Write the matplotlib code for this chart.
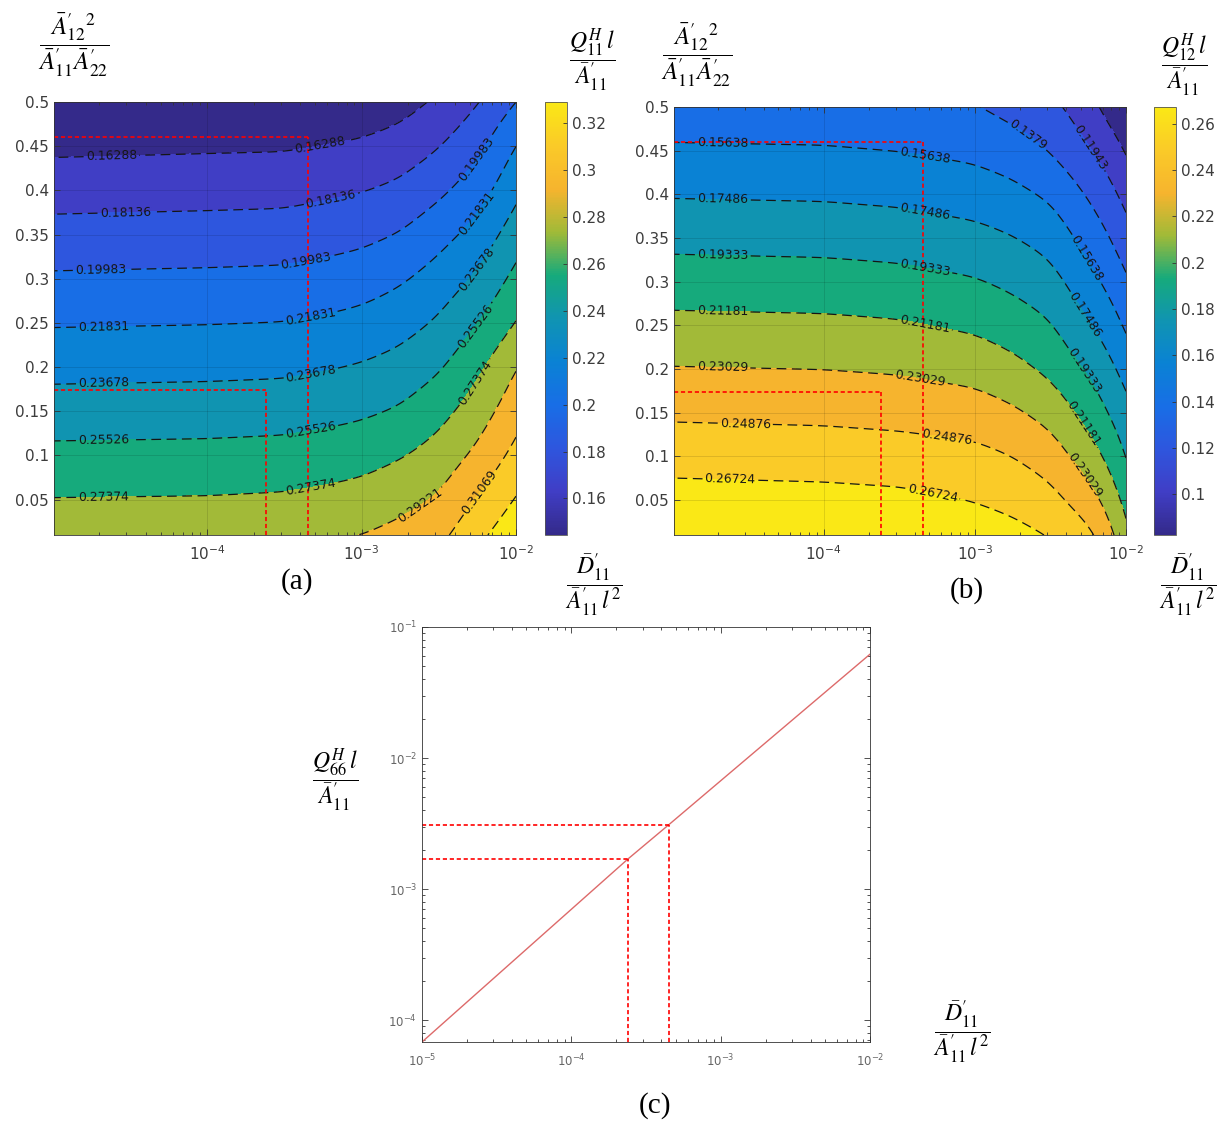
import numpy as np
import matplotlib
matplotlib.use("Agg")
import matplotlib.pyplot as plt
from matplotlib.colors import LinearSegmentedColormap, Normalize
from matplotlib.cm import ScalarMappable
from matplotlib.ticker import FixedLocator, FuncFormatter, FormatStrFormatter

plt.rcParams['font.family'] = ['DejaVu Sans']
plt.rcParams['mathtext.fontset'] = 'stix'
plt.rcParams['lines.scale_dashes'] = False

# ---- data ----
# rows: A12'^2/(A11'A22'), columns: log10 of D11'/(A11' l^2)
ratio = [0.01, 0.05, 0.10, 0.15, 0.20, 0.25, 0.30, 0.35, 0.40, 0.45, 0.50]

logd_a = [-5, -4, -3.5, -3.25, -3.0, -2.75, -2.5, -2.25, -2.0]
q11 = [
    [0.2859, 0.2865, 0.2878, 0.2899, 0.2922, 0.2976, 0.3051, 0.3245, 0.3418],
    [0.2744, 0.2750, 0.2763, 0.2784, 0.2811, 0.2866, 0.2937, 0.3123, 0.3303],
    [0.2600, 0.2607, 0.2619, 0.2639, 0.2668, 0.2724, 0.2811, 0.2961, 0.3159],
    [0.2456, 0.2464, 0.2475, 0.2496, 0.2522, 0.2571, 0.2675, 0.2829, 0.3033],
    [0.2312, 0.2321, 0.2331, 0.2353, 0.2383, 0.2433, 0.2528, 0.2698, 0.2915],
    [0.2168, 0.2177, 0.2187, 0.2209, 0.2240, 0.2297, 0.2390, 0.2547, 0.2741],
    [0.2024, 0.2034, 0.2043, 0.2065, 0.2096, 0.2159, 0.2260, 0.2395, 0.2604],
    [0.1880, 0.1891, 0.1899, 0.1923, 0.1951, 0.2007, 0.2118, 0.2248, 0.2463],
    [0.1736, 0.1748, 0.1755, 0.1781, 0.1805, 0.1855, 0.1958, 0.2098, 0.2322],
    [0.1592, 0.1605, 0.1611, 0.1632, 0.1656, 0.1706, 0.1804, 0.1948, 0.2188],
    [0.1448, 0.1462, 0.1467, 0.1483, 0.1507, 0.1557, 0.1658, 0.1799, 0.1998],
]
levels_a = [0.14441, 0.16288, 0.18136, 0.19983, 0.21831, 0.23678, 0.25526,
            0.27374, 0.29221, 0.31069, 0.32916, 0.34763]

logd_b = [-5, -4, -3.5, -3.0, -2.75, -2.5, -2.25, -2.125, -2.0]
q12 = [
    [0.2861, 0.2847, 0.2831, 0.2768, 0.2728, 0.2664, 0.2543, 0.2390, 0.2168],
    [0.2745, 0.2732, 0.2716, 0.2666, 0.2622, 0.2550, 0.2389, 0.2256, 0.2062],
    [0.2601, 0.2588, 0.2571, 0.2539, 0.2490, 0.2401, 0.2210, 0.2091, 0.1926],
    [0.2457, 0.2445, 0.2427, 0.2392, 0.2334, 0.2239, 0.2055, 0.1940, 0.1813],
    [0.2312, 0.2301, 0.2283, 0.2236, 0.2173, 0.2078, 0.1910, 0.1814, 0.1682],
    [0.2168, 0.2157, 0.2138, 0.2087, 0.2030, 0.1951, 0.1766, 0.1676, 0.1536],
    [0.2024, 0.2013, 0.1994, 0.1949, 0.1895, 0.1818, 0.1629, 0.1530, 0.1407],
    [0.1880, 0.1869, 0.1850, 0.1806, 0.1757, 0.1681, 0.1496, 0.1402, 0.1275],
    [0.1735, 0.1725, 0.1705, 0.1661, 0.1615, 0.1537, 0.1364, 0.1269, 0.1137],
    [0.1591, 0.1582, 0.1561, 0.1520, 0.1468, 0.1371, 0.1215, 0.1120, 0.0995],
    [0.1447, 0.1438, 0.1417, 0.1392, 0.1319, 0.1245, 0.1089, 0.0952, 0.0853],
]
levels_b = [0.0825, 0.10095, 0.11943, 0.1379, 0.15638, 0.17486, 0.19333,
            0.21181, 0.23029, 0.24876, 0.26724, 0.29]

# chosen design points (red dashed guides)
guide_d = [2.4e-4, 4.5e-4]
guide_ratio = [0.174, 0.46]

# panel (c): Q66 line
d_c = [1e-5, 2.4e-4, 4.5e-4, 1e-2]
q66 = [6.8e-5, 1.7e-3, 3.1e-3, 6.2e-2]

# label spots (log10 d, ratio)
labels_a = [(-4.62, 0.436), (-3.27, 0.450), (-4.53, 0.372), (-3.20, 0.392),
            (-4.69, 0.309), (-3.36, 0.320), (-2.26, 0.435),
            (-4.67, 0.245), (-3.33, 0.256), (-2.26, 0.375),
            (-4.67, 0.181), (-3.33, 0.195), (-2.25, 0.310),
            (-4.67, 0.116), (-3.33, 0.128), (-2.25, 0.245),
            (-4.67, 0.052), (-3.33, 0.065), (-2.24, 0.180),
            (-2.62, 0.044), (-2.24, 0.059)]
labels_b = [(-2.24, 0.454), (-2.65, 0.468),
            (-4.67, 0.458), (-3.33, 0.445), (-2.26, 0.327),
            (-4.67, 0.394), (-3.33, 0.380), (-2.27, 0.262),
            (-4.67, 0.330), (-3.33, 0.316), (-2.27, 0.199),
            (-4.67, 0.265), (-3.33, 0.253), (-2.28, 0.138),
            (-4.67, 0.201), (-3.36, 0.189), (-2.27, 0.079),
            (-4.52, 0.136), (-3.19, 0.120),
            (-4.62, 0.074), (-3.28, 0.059)]

# parula-like colours sampled from the bands
cmap = LinearSegmentedColormap.from_list("parula_like", [
    (0.0, (52/255, 42/255, 138/255)),
    (0.1, (64/255, 62/255, 198/255)),
    (0.2, (46/255, 86/255, 222/255)),
    (0.3, (24/255, 110/255, 230/255)),
    (0.4, (10/255, 130/255, 212/255)),
    (0.5, (16/255, 148/255, 178/255)),
    (0.6, (22/255, 170/255, 124/255)),
    (0.7, (160/255, 186/255, 56/255)),
    (0.8, (246/255, 180/255, 46/255)),
    (0.9, (250/255, 202/255, 40/255)),
    (1.0, (250/255, 232/255, 22/255)),
])

XMIN = np.log10(1.02e-5)
TICK_C = '#3c3c3c'


def smooth_field(lx, ys, z, nx=301, ny=246, sig=7):
    fx = np.linspace(lx[0], lx[-1], nx)
    fy = np.linspace(ys[0], ys[-1], ny)
    z = np.asarray(z, float)
    tmp = np.array([np.interp(fx, lx, row) for row in z])
    f = np.array([np.interp(fy, ys, tmp[:, j]) for j in range(nx)]).T
    k = np.arange(-3 * sig, 3 * sig + 1)
    g = np.exp(-0.5 * (k / sig) ** 2)
    g /= g.sum()
    p = 3 * sig
    f = np.pad(f, p, mode='reflect', reflect_type='odd')
    f = np.apply_along_axis(lambda r: np.convolve(r, g, mode='same'), 1, f)
    f = np.apply_along_axis(lambda r: np.convolve(r, g, mode='same'), 0, f)
    f = f[p:-p, p:-p]
    return fx, fy, f


def style_axes(ax, size=11):
    ax.tick_params(which='both', direction='in', top=True, right=True,
                   colors='#333333', labelcolor=TICK_C, labelsize=size, width=0.6)
    ax.tick_params(which='major', length=4)
    ax.tick_params(which='minor', length=2)
    for s in ax.spines.values():
        s.set_color('#333333')
        s.set_linewidth(0.6)


pow_fmt = FuncFormatter(lambda v, p: r'$\mathdefault{10^{%d}}$' % round(v))
minor_log = [np.log10(k * 10.0 ** n) for n in (-5, -4, -3) for k in range(2, 10)]


def contour_panel(ax, cax, lx, z, levels, labelled, unlabelled, spots, cb_ticks):
    X, Y, Z = smooth_field(lx, ratio, z)
    band_colors = [cmap(k / 10) for k in range(len(levels) - 1)]
    ax.contourf(X, Y, Z, levels=levels, colors=band_colors)
    ax.contour(X, Y, Z, levels=unlabelled, colors='#151515', linewidths=0.9,
               linestyles=[(0, (7, 4))])
    cs = ax.contour(X, Y, Z, levels=labelled, colors='#151515', linewidths=0.9,
                    linestyles=[(0, (7, 4))])
    ax.clabel(cs, manual=spots, fmt=lambda v: f'{v:.5g}',
              fontsize=8.9, inline=True, inline_spacing=2, colors='#151515')
    ax.set_xlim(XMIN, -2)
    ax.set_ylim(0.01, 0.5)
    ax.xaxis.set_major_locator(FixedLocator([-4, -3, -2]))
    ax.xaxis.set_major_formatter(pow_fmt)
    ax.xaxis.set_minor_locator(FixedLocator(minor_log))
    ax.yaxis.set_major_locator(FixedLocator(np.arange(0.05, 0.501, 0.05)))
    ax.yaxis.set_major_formatter(FormatStrFormatter('%g'))
    ax.grid(True, which='major', color='k', alpha=0.13, lw=0.6)
    style_axes(ax)
    ax.tick_params(axis='x', pad=7)
    # guides
    for d, r in zip(guide_d, guide_ratio):
        ax.plot([XMIN, np.log10(d)], [r, r], color='red', lw=1.2, ls=(0, (3, 2)))
        ax.plot([np.log10(d)] * 2, [0.01, r], color='red', lw=1.2, ls=(0, (3, 2)))
    sm = ScalarMappable(norm=Normalize(levels[0], levels[10]), cmap=cmap)
    cb = plt.colorbar(sm, cax=cax)
    cb.set_ticks(cb_ticks)
    cb.ax.yaxis.set_major_formatter(FormatStrFormatter('%g'))
    cb.ax.tick_params(direction='in', length=3, colors='#333333', labelcolor=TICK_C,
                      labelsize=11, width=0.6)
    cb.outline.set_edgecolor('#555555')
    cb.outline.set_linewidth(0.6)


W, H = 1223, 1125
fig = plt.figure(figsize=(W / 100, H / 100), dpi=100)


def box(l, t, r, b):
    return [l / W, 1 - b / H, (r - l) / W, (b - t) / H]


ax_a = fig.add_axes(box(54, 102, 516, 535))
cax_a = fig.add_axes(box(545, 102, 567, 535))
ax_b = fig.add_axes(box(674, 107, 1126, 535))
cax_b = fig.add_axes(box(1154, 107, 1176, 535))
ax_c = fig.add_axes(box(422, 627, 870, 1042))

contour_panel(ax_a, cax_a, logd_a, q11, levels_a, levels_a[1:10], [levels_a[10]],
              labels_a, np.arange(0.16, 0.321, 0.02))
contour_panel(ax_b, cax_b, logd_b, q12, levels_b, levels_b[2:11], [levels_b[1]],
              labels_b, np.arange(0.10, 0.261, 0.02))

# panel (c)
ax_c.plot(d_c, q66, color='#dd6a6a', lw=1.0)
for d, q in zip(d_c[1:3], q66[1:3]):
    ax_c.plot([1e-5, d], [q, q], color='red', lw=1.2, ls=(0, (3, 2)))
    ax_c.plot([d, d], [6.8e-5, q], color='red', lw=1.2, ls=(0, (3, 2)))
ax_c.set_xscale('log')
ax_c.set_yscale('log')
ax_c.set_xlim(1e-5, 1e-2)
ax_c.set_ylim(6.8e-5, 0.1)
ax_c.xaxis.set_major_locator(FixedLocator([1e-5, 1e-4, 1e-3, 1e-2]))
ax_c.yaxis.set_major_locator(FixedLocator([1e-4, 1e-3, 1e-2, 1e-1]))
style_axes(ax_c, size=8.5)
ax_c.tick_params(labelcolor='#666666')
ax_c.tick_params(axis='x', pad=8)

# math labels
frac_ratio = r'$\dfrac{{\bar{A}^{\prime}_{12}}^{2}}{\bar{A}^{\prime}_{11}\bar{A}^{\prime}_{22}}$'
frac_d = r'$\dfrac{\bar{D}^{\prime}_{11}}{\bar{A}^{\prime}_{11}\,l^{2}}$'
fs = 17
fig.text(74 / W, 1 - 45 / H, frac_ratio, ha='center', va='center', fontsize=fs + 1)
fig.text(697 / W, 1 - 55 / H, frac_ratio, ha='center', va='center', fontsize=fs + 1)
fig.text(592 / W, 1 - 60 / H, r'$\dfrac{Q^{H}_{11}\,l}{\bar{A}^{\prime}_{11}}$',
         ha='center', va='center', fontsize=fs)
fig.text(1184 / W, 1 - 65 / H, r'$\dfrac{Q^{H}_{12}\,l}{\bar{A}^{\prime}_{11}}$',
         ha='center', va='center', fontsize=fs)
fig.text(594 / W, 1 - 585 / H, frac_d, ha='center', va='center', fontsize=fs)
fig.text(1188 / W, 1 - 585 / H, frac_d, ha='center', va='center', fontsize=fs)
fig.text(335 / W, 1 - 780 / H, r'$\dfrac{Q^{H}_{66}\,l}{\bar{A}^{\prime}_{11}}$',
         ha='center', va='center', fontsize=fs)
fig.text(962 / W, 1 - 1032 / H, frac_d, ha='center', va='center', fontsize=fs)

for x, y, s in [(297, 582, '(a)'), (967, 591, '(b)'), (655, 1106, '(c)')]:
    fig.text(x / W, 1 - y / H, s, ha='center', va='center', fontsize=21,
             family='Liberation Serif')

fig.savefig('out.png', dpi=100)
